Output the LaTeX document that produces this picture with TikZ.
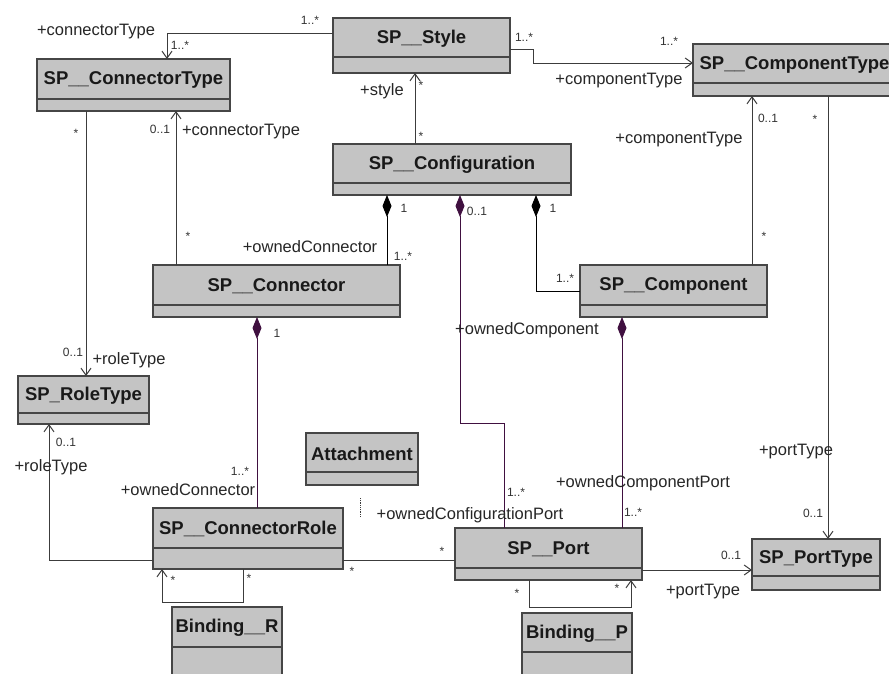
\documentclass[tikz,border=0pt]{standalone}
\usepackage{fontspec}
\setmainfont{Liberation Sans}
\usetikzlibrary{arrows.meta,calc}
\definecolor{boxfill}{RGB}{196,196,196}
\definecolor{boxline}{RGB}{70,70,70}
\definecolor{purp}{RGB}{64,16,64}
\definecolor{lnk}{RGB}{60,60,60}
\newcommand\umlclass[7]{%
  \node[cls, minimum width={#4-#2}, minimum height={#6-#3}] (#1) at ({(#2+#4)/2},{(#3+#6)/2}) {};
  \node[ttl] (#1-t) at ({(#2+#4)/2},{(#3+#5)/2+1}) {#7};
  \draw[sepl] ($(#1.north west)+(0,#5-#3)$) -- ($(#1.north east)+(0,#5-#3)$);
}
\begin{document}
\begin{tikzpicture}[x=1pt,y=-1pt,
  cls/.style={draw=boxline, fill=boxfill, line width=1.3pt, inner sep=0pt, outer sep=0pt},
  ttl/.style={font=\bfseries\fontsize{18.5}{20}\selectfont, inner sep=0pt, text=black!90},
  sepl/.style={draw=boxline, line width=1.3pt},
  lbl/.style={font=\fontsize{16.5}{18}\selectfont, inner sep=0pt, text=black!85},
  mul/.style={font=\fontsize{12}{14}\selectfont, inner sep=0pt, text=black!80},
  assoc/.style={draw=lnk, line width=1pt, -{Straight Barb[length=7pt,width=10pt,line width=1pt]}},
  plain/.style={draw=lnk, line width=1pt},
  compB/.style={draw=black, line width=1pt, {Diamond[length=22pt,width=9pt,fill=black]}-},
  compP/.style={draw=purp, line width=1pt, {Diamond[length=22pt,width=9pt,fill=purp]}-},
]
\clip (0,0) rectangle (889,673);
\fill[white] (0,0) rectangle (889,673);

% classes
\umlclass{sty}{333}{18}{510}{57}{73}{SP\_\_Style}
\umlclass{ctype}{37}{59}{230}{99}{111}{SP\_\_ConnectorType}
\umlclass{cfg}{333}{144}{571}{183}{195}{SP\_\_Configuration}
\umlclass{comptype}{693}{44}{896}{83}{96}{SP\_\_ComponentType}
\umlclass{conn}{153}{265}{400}{305}{317}{SP\_\_Connector}
\umlclass{comp}{580}{265}{767}{305}{317}{SP\_\_Component}
\umlclass{role}{18}{376}{149}{413}{424}{SP\_RoleType}
\umlclass{att}{306}{433}{418}{472}{485}{Attachment}
\umlclass{crole}{153}{508}{343}{548}{569}{SP\_\_ConnectorRole}
\umlclass{bindR}{172}{607}{282}{647}{685}{Binding\_\_R}
\umlclass{port}{455}{528}{642}{568}{580}{SP\_\_Port}
\umlclass{ptype}{752}{539}{880}{576}{590}{SP\_PortType}
\umlclass{bindP}{522}{613}{632}{652}{685}{Binding\_\_P}

% connectors
\draw[assoc] ($(sty.north west)+(0,15)$) -| ($(ctype.north west)+(130,0)$);
\draw[assoc] ($(sty.north east)+(0,31)$) -- ++(23,0) |- ($(comptype.north west)+(0,19)$);
\draw[assoc] ($(cfg.north west)+(82,0)$) -- ($(sty.south west)+(82,0)$);
\draw[assoc] ($(conn.north west)+(23,0)$) -- ($(ctype.south west)+(139,0)$);
\draw[assoc] ($(ctype.south west)+(49,0)$) -- ($(role.north west)+(68,0)$);
\draw[compB] ($(cfg.south west)+(54,0)$) -- ($(conn.north west)+(234,0)$);
\draw[compP] ($(cfg.south west)+(127,0)$) -- ++(0,228) -| ($(port.north west)+(49,0)$);
\draw[compB] ($(cfg.south west)+(203,0)$) |- (comp.west);
\draw[assoc] ($(comp.north west)+(172,0)$) -- ($(comptype.south west)+(59,0)$);
\draw[assoc] ($(comptype.south west)+(135,0)$) -- ($(ptype.north west)+(76,0)$);
\draw[compP] ($(conn.south west)+(104,0)$) -- ($(crole.north west)+(104,0)$);
\draw[compP] ($(comp.south west)+(42,0)$) -- ($(port.north west)+(167,0)$);
\draw[assoc] ($(crole.south west)+(0,-9)$) -| ($(role.south west)+(31,0)$);
\draw[plain] ($(crole.south east)+(0,-9)$) -- ($(port.south west)+(0,-20)$);
\draw[assoc] ($(port.south east)+(0,-10)$) -- ($(ptype.south west)+(0,-20)$);
\draw[assoc] ($(crole.south west)+(90,0)$) -- ++(0,33) -| ($(crole.south west)+(9,0)$);
\draw[assoc] ($(port.south west)+(74,0)$) -- ++(0,27) -| ($(port.south west)+(176,0)$);
\draw[draw=lnk, line width=0.8pt, densely dotted] ($(att.south)+(-2,13)$) -- ++(0,19);

% labels
\node[mul] (m1) at (310,20) {1..*};
\node[lbl] (l1) at (96,32) {+connectorType};
\node[mul] (m2) at (180,45) {1..*};
\node[mul] (m3) at (524,37) {1..*};
\node[mul] (m4) at (669,41) {1..*};
\node[lbl] (l2) at (619,81) {+componentType};
\node[lbl] (l3) at (382,91) {+style};
\node[mul] (m5) at (421,85) {*};
\node[mul] (m6) at (421,136) {*};
\node[mul] (m7) at (160,129) {0..1};
\node[lbl] (l4) at (241,132) {+connectorType};
\node[mul] (m8) at (76,133) {*};
\node[mul] (m9) at (188,236) {*};
\node[lbl] (l5) at (310,247) {+ownedConnector};
\node[mul] (m10) at (403,256) {1..*};
\node[mul] (m11) at (404,208) {1};
\node[mul] (m12) at (477,211) {0..1};
\node[mul] (m13) at (553,208) {1};
\node[mul] (m14) at (768,118) {0..1};
\node[mul] (m15) at (815,119) {*};
\node[lbl] (l6) at (679,140) {+componentType};
\node[mul] (m16) at (764,236) {*};
\node[mul] (m17) at (565,278) {1..*};
\node[lbl] (l7) at (527,330) {+ownedComponent};
\node[mul] (m18) at (277,333) {1};
\node[mul] (m19) at (73,352) {0..1};
\node[lbl] (l8) at (129,360) {+roleType};
\node[mul] (m20) at (66,442) {0..1};
\node[lbl] (l9) at (51,467) {+roleType};
\node[mul] (m21) at (240,471) {1..*};
\node[lbl] (l10) at (188,490) {+ownedConnector};
\node[lbl] (l11) at (470,515) {+ownedConfigurationPort};
\node[mul] (m22) at (516,492) {1..*};
\node[lbl] (l12) at (643,483) {+ownedComponentPort};
\node[mul] (m23) at (633,512) {1..*};
\node[lbl] (l13) at (796,452) {+portType};
\node[mul] (m24) at (813,513) {0..1};
\node[mul] (m25) at (731,555) {0..1};
\node[lbl] (l14) at (703,592) {+portType};
\node[mul] (m26) at (442,551) {*};
\node[mul] (m27) at (352,571) {*};
\node[mul] (m28) at (173,580) {*};
\node[mul] (m29) at (249,578) {*};
\node[mul] (m30) at (517,593) {*};
\node[mul] (m31) at (617,588) {*};
\end{tikzpicture}
\end{document}
